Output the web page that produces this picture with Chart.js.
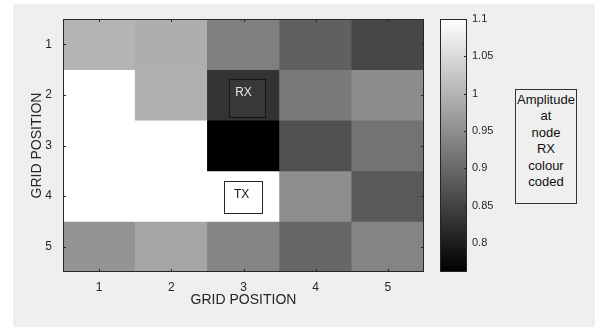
<!DOCTYPE html>
<html>
<head>
<meta charset="utf-8">
<script src="https://cdn.jsdelivr.net/npm/chart.js@4.4.1/dist/chart.umd.min.js"></script>
<style>
	body { margin: 0; background: #fff; width: 595px; height: 327px; overflow: hidden; position: relative; font-family: "Liberation Sans", Arial, sans-serif; }
	#panel { position: absolute; left: 13px; top: 4px; right: 0; bottom: 0; background: #efefef; }
	#wrapMain { position: absolute; left: 0; top: 0; width: 430px; height: 327px; }
	#wrapBar { position: absolute; left: 430px; top: 0; width: 70px; height: 327px; }
	#note { position: absolute; left: 515px; top: 89px; width: 60px; height: 111px; border: 1px solid #333; box-sizing: content-box;
		font-size: 13px; line-height: 16.4px; text-align: center; color: #111; padding-top: 2px; }
</style>
</head>
<body>
<div id="panel"></div>
<div id="wrapMain"><canvas id="heat"></canvas></div>
<div id="wrapBar"><canvas id="cbar"></canvas></div>
<div id="note">Amplitude<br>at<br>node<br>RX<br>colour<br>coded</div>
<script>
// grid positions (columns = x, rows = y)
const cols = [1, 2, 3, 4, 5]
const rows = [1, 2, 3, 4, 5]
const gridTicks = [1, 2, 3, 4, 5]

// amplitude at node RX, one array per row (values above 1.1 / below 0.761 are clipped in the colour scale)
const row1 = [1.000, 0.992, 0.930, 0.889, 0.855]
const row2 = [1.150, 0.995, 0.829, 0.923, 0.947]
const row3 = [1.150, 1.150, 0.740, 0.867, 0.914]
const row4 = [1.150, 1.150, 1.150, 0.950, 0.879]
const row5 = [0.958, 0.980, 0.938, 0.898, 0.936]
const amp = [row1, row2, row3, row4, row5]

// colour limits and colorbar ticks
const cmin = 0.761
const cmax = 1.1
const cbarTicks = [0.8, 0.85, 0.9, 0.95, 1, 1.05, 1.1]

// marker boxes (data coords): text anchor + box extents
const rxMark = { label: 'RX', x: 3.0, y: 1.96, x0: 2.8, x1: 3.3, y0: 1.69, y1: 2.44 }
const txMark = { label: 'TX', x: 2.975, y: 3.98, x0: 2.73, x1: 3.26, y0: 3.70, y1: 4.33 }

const axisCol = '#262626'
const fontFam = '"Liberation Sans", Arial, sans-serif'

function gray(v) {
	var t = (v - cmin) / (cmax - cmin)
	t = Math.max(0, Math.min(1, t))
	var g = Math.round(t * 255)
	return 'rgb(' + g + ',' + g + ',' + g + ')'
}

var datasets = rows.map(function (r, i) {
	return {
		data: cols.map(function (c) { return { x: c, y: [r - 0.5, r + 0.5] } }),
		backgroundColor: amp[i].map(gray),
		borderWidth: 0,
		grouped: false,
		categoryPercentage: 1,
		barPercentage: 1
	}
})

// MATLAB style box with inward ticks
function boxAndTicks(chart, xs, ys, tl) {
	var c = chart.ctx, a = chart.chartArea
	c.save()
	c.strokeStyle = axisCol
	c.lineWidth = 1
	c.strokeRect(Math.round(a.left) + 0.5, Math.round(a.top) + 0.5, Math.round(a.right - a.left) - 1, Math.round(a.bottom - a.top) - 1)
	c.beginPath()
	if (xs) xs.ticks.forEach(function (t) {
		var px = Math.round(xs.getPixelForValue(t.value)) + 0.5
		c.moveTo(px, a.bottom); c.lineTo(px, a.bottom - tl)
		c.moveTo(px, a.top); c.lineTo(px, a.top + tl)
	})
	if (ys) ys.ticks.forEach(function (t) {
		var py = Math.round(ys.getPixelForValue(t.value)) + 0.5
		if (xs) { c.moveTo(a.left, py); c.lineTo(a.left + tl, py) }
		c.moveTo(a.right, py); c.lineTo(a.right - tl, py)
	})
	c.stroke()
	c.restore()
}

function drawMark(chart, m, fill, border, txtCol) {
	var c = chart.ctx, xs = chart.scales.x, ys = chart.scales.y
	var x0 = Math.round(xs.getPixelForValue(m.x0)) + 0.5
	var x1 = Math.round(xs.getPixelForValue(m.x1)) + 0.5
	var y0 = Math.round(ys.getPixelForValue(m.y0)) + 0.5
	var y1 = Math.round(ys.getPixelForValue(m.y1)) + 0.5
	c.save()
	c.fillStyle = fill
	c.fillRect(x0, y0, x1 - x0, y1 - y0)
	c.strokeStyle = border
	c.lineWidth = 1
	c.strokeRect(x0, y0, x1 - x0, y1 - y0)
	c.fillStyle = txtCol
	c.font = '12px ' + fontFam
	c.textAlign = 'center'
	c.textBaseline = 'middle'
	c.fillText(m.label, xs.getPixelForValue(m.x), ys.getPixelForValue(m.y))
	c.restore()
}

const heatDeco = {
	id: 'heatDeco',
	afterDatasetsDraw: function (chart) {
		boxAndTicks(chart, chart.scales.x, chart.scales.y, 3)
		drawMark(chart, rxMark, gray(0.836), '#161616', '#e6e6e6')
		drawMark(chart, txMark, '#ffffff', axisCol, '#111111')
	}
}

function setTicks(list) {
	return function (scale) { scale.ticks = list.map(function (v) { return { value: v } }) }
}
function plainLabel(v) { return String(v) }

new Chart(document.getElementById('heat'), {
	type: 'bar',
	data: { datasets: datasets },
	options: {
		responsive: true,
		maintainAspectRatio: false,
		animation: false,
		layout: { padding: { left: 29, top: 19, right: 6, bottom: 18 } },
		plugins: { legend: { display: false }, tooltip: { enabled: false } },
		scales: {
			x: {
				type: 'linear', min: 0.5, max: 5.5, offset: false,
				afterBuildTicks: setTicks(gridTicks),
				afterFit: function (s) { s.height = 37 },
				grid: { display: false, drawTicks: false }, border: { display: false },
				ticks: { color: axisCol, padding: 8, callback: plainLabel, font: { size: 12, family: fontFam } },
				title: { display: true, text: 'GRID POSITION', color: axisCol, padding: 0, font: { size: 14, family: fontFam } }
			},
			y: {
				type: 'linear', reverse: true, min: 0.5, max: 5.5,
				afterBuildTicks: setTicks(gridTicks),
				afterFit: function (s) { s.width = 34 },
				grid: { display: false, drawTicks: false }, border: { display: false },
				ticks: { color: axisCol, padding: 11, callback: plainLabel, font: { size: 12, family: fontFam } },
				title: { display: true, text: 'GRID POSITION', color: axisCol, padding: 0, font: { size: 14, family: fontFam } }
			}
		}
	},
	plugins: [heatDeco]
})

// colorbar
const cbarDeco = {
	id: 'cbarDeco',
	afterDatasetsDraw: function (chart) {
		boxAndTicks(chart, null, chart.scales.y, 3)
	}
}

new Chart(document.getElementById('cbar'), {
	type: 'bar',
	data: {
		labels: [''],
		datasets: [{
			data: [[cmin, cmax]],
			borderWidth: 0,
			categoryPercentage: 1,
			barPercentage: 1,
			backgroundColor: function (ctx) {
				var chart = ctx.chart, ys = chart.scales.y
				if (!chart.chartArea || !ys) return '#888'
				var gr = chart.ctx.createLinearGradient(0, ys.getPixelForValue(cmin), 0, ys.getPixelForValue(cmax))
				gr.addColorStop(0, '#000')
				gr.addColorStop(1, '#fff')
				return gr
			}
		}]
	},
	options: {
		responsive: true,
		maintainAspectRatio: false,
		animation: false,
		layout: { padding: { left: 10, top: 19, right: 0, bottom: 55 } },
		plugins: { legend: { display: false }, tooltip: { enabled: false } },
		scales: {
			x: { display: false },
			y: {
				position: 'right', min: cmin, max: cmax,
				afterBuildTicks: setTicks(cbarTicks),
				afterFit: function (s) { s.width = 33 },
				grid: { display: false, drawTicks: false }, border: { display: false },
				ticks: { color: axisCol, padding: 5, callback: plainLabel, font: { size: 11, family: fontFam } }
			}
		}
	},
	plugins: [cbarDeco]
})
</script>
</body>
</html>
